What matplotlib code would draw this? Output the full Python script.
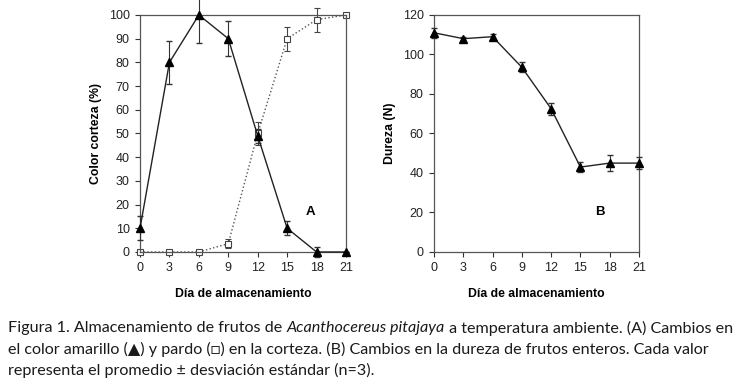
import matplotlib
matplotlib.use("Agg")
import matplotlib.pyplot as plt

plt.rcParams['font.family'] = ['Liberation Sans', 'DejaVu Sans']

# datos
dias = [0, 3, 6, 9, 12, 15, 18, 21]
amarillo = [10, 80, 100, 90, 49, 10, 0, 0]
amarillo_err = [5, 9, 12, 7.5, 3, 3, 2, 0]
pardo = [0, 0, 0, 3.5, 50, 90, 98, 100]
pardo_err = [0, 0, 0, 2, 5, 5, 5, 0]
dureza = [111, 108, 109, 93.5, 72.5, 43, 45, 45]
dureza_err = [2.5, 1, 1.5, 2.5, 3, 2.5, 4, 3]

xlabel = 'Día de almacenamiento'
caption = [
    [("Figura 1. Almacenamiento de frutos de ", 'normal'),
     ("Acanthocereus pitajaya", 'italic'),
     (" a temperatura ambiente. (A) Cambios en", 'normal')],
    [("el color amarillo (\u25B2) y pardo (\u25A1) en la corteza. (B) Cambios en la dureza de frutos enteros. Cada valor", 'normal')],
    [("representa el promedio \u00B1 desviación estándar (n=3).", 'normal')],
]

fig = plt.figure(figsize=(7.42, 3.84), dpi=100)
axA = fig.add_axes([0.1887, 0.3438, 0.2776, 0.6172])
axB = fig.add_axes([0.5849, 0.3438, 0.2763, 0.6172])

lc = '#222222'
axA.errorbar(dias, amarillo, yerr=amarillo_err, color=lc, lw=1, marker='^',
             ms=5.5, mfc='black', mec='black', capsize=2.5, elinewidth=0.8,
             ecolor='#333333', zorder=3, clip_on=False)
axA.errorbar(dias, pardo, yerr=pardo_err, color='#555555', lw=1, ls=':',
             marker='s', ms=4.5, mfc='white', mec='#444444', mew=0.8,
             capsize=2.5, elinewidth=0.8, ecolor='#444444', zorder=2,
             clip_on=False)
axA.set_ylim(0, 100)
axA.set_yticks(range(0, 101, 10))
axA.set_ylabel('Color corteza (%)', fontsize=8.8, fontweight='bold', labelpad=5)
axA.text(0.83, 0.17, 'A', transform=axA.transAxes, fontsize=9.5,
         fontweight='bold', ha='center', va='center')

axB.errorbar(dias, dureza, yerr=dureza_err, color=lc, lw=1, marker='^',
             ms=5.5, mfc='black', mec='black', capsize=2.5, elinewidth=0.8,
             ecolor='#333333', zorder=3, clip_on=False)
axB.set_ylim(0, 120)
axB.set_yticks(range(0, 121, 20))
axB.set_ylabel('Dureza (N)', fontsize=8.8, fontweight='bold', labelpad=5)
axB.text(0.81, 0.17, 'B', transform=axB.transAxes, fontsize=9.5,
         fontweight='bold', ha='center', va='center')

for ax in (axA, axB):
    ax.set_xlim(0, 21)
    ax.set_xticks(dias)
    ax.set_xlabel(xlabel, fontsize=8.8, fontweight='bold', labelpad=10)
    ax.tick_params(labelsize=9, direction='out', length=3.5, width=0.8,
                   pad=4, colors='#333333', labelcolor='#222222')
    for s in ax.spines.values():
        s.set_color('#555555')
        s.set_linewidth(0.9)

# pie de figura con cursiva mezclada
fig.canvas.draw()
r = fig.canvas.get_renderer()
ys = [1 - 328 / 384, 1 - 349 / 384, 1 - 370 / 384]
for line, y in zip(caption, ys):
    x = 8 / 742
    for txt, st in line:
        t = fig.text(x, y, txt, fontsize=11.6, style=st, va='center',
                     family=['Lato', 'DejaVu Sans'], color='#1a1a1a')
        bb = t.get_window_extent(r)
        x += bb.width / fig.bbox.width

fig.savefig('out.png', dpi=100)
